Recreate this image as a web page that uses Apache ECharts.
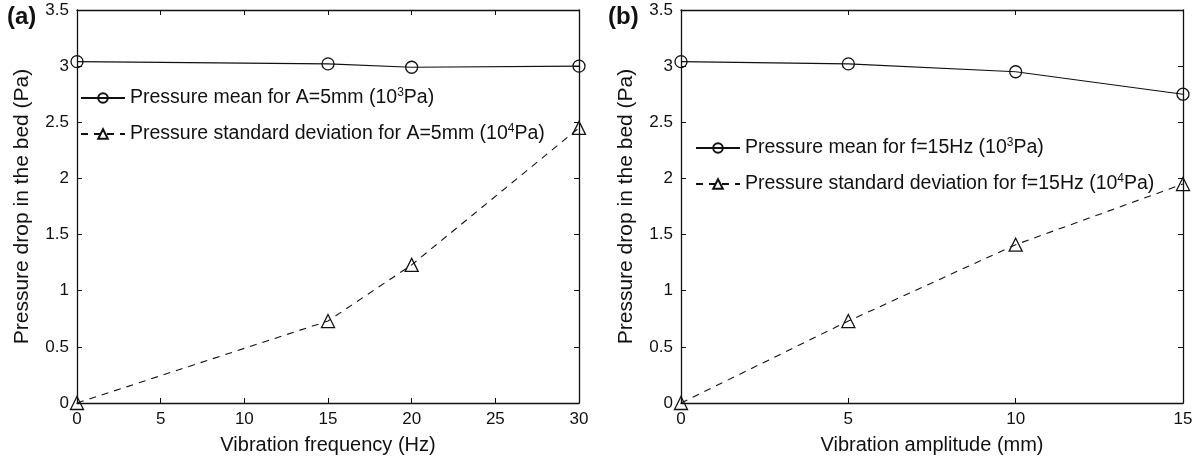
<!DOCTYPE html>
<html>
<head>
<meta charset="utf-8">
<script src="https://cdn.jsdelivr.net/npm/echarts@6/dist/echarts.min.js"></script>
<style>html,body{margin:0;padding:0;background:#fff;}#c{width:1199px;height:460px;}</style>
</head>
<body>
<div id="c"></div>
<script>
// Panel (a): vibration frequency
const freqX = [0, 15, 20, 30];
const meanA = [3.04, 3.02, 2.99, 3.0];
const stdA = [0, 0.73, 1.23, 2.45];
// Panel (b): vibration amplitude
const ampX = [0, 5, 10, 15];
const meanB = [3.04, 3.02, 2.95, 2.75];
const stdB = [0, 0.73, 1.41, 1.95];

const FONT = "'Liberation Sans', Arial, sans-serif";
const chart = echarts.init(document.getElementById('c'), null, {renderer: 'canvas'});

const rich = {
  n: {fontFamily: FONT, fontSize: 19.5, color: '#111'},
  s: {fontFamily: FONT, fontSize: 12, color: '#111', verticalAlign: 'top', padding: [0, 0, 10, 0]}
};
function lbl(pre, exp) { return '{n|' + pre + '(10}{s|' + exp + '}{n|Pa)}'; }

function xAxisMain(gi, max, name) {
  return {
    type: 'value', gridIndex: gi, min: 0, max: max, interval: 5,
    name: name, nameLocation: 'middle', nameGap: 32,
    nameTextStyle: {fontFamily: FONT, fontSize: 20, color: '#111'},
    axisLine: {onZero: false, lineStyle: {color: '#111', width: 1.3}},
    axisTick: {inside: true, length: 5, lineStyle: {color: '#111'}},
    axisLabel: {fontFamily: FONT, fontSize: 17, color: '#111', margin: 8},
    splitLine: {show: false}
  };
}
function xAxisTop(gi, max) {
  return {
    type: 'value', gridIndex: gi, min: 0, max: max, interval: 5, position: 'top',
    axisLine: {onZero: false, lineStyle: {color: '#111', width: 1.3}},
    axisTick: {inside: true, length: 5, lineStyle: {color: '#111'}},
    axisLabel: {show: false}, splitLine: {show: false}
  };
}
function yAxisMain(gi) {
  return {
    type: 'value', gridIndex: gi, min: 0, max: 3.5, interval: 0.5,
    name: 'Pressure drop in the bed (Pa)', nameLocation: 'middle', nameGap: 44,
    nameTextStyle: {fontFamily: FONT, fontSize: 21, color: '#111'},
    axisLine: {show: true, onZero: false, lineStyle: {color: '#111', width: 1.3}},
    axisTick: {show: true, inside: true, length: 5, lineStyle: {color: '#111'}},
    axisLabel: {fontFamily: FONT, fontSize: 17, color: '#111', margin: 8},
    splitLine: {show: false}
  };
}
function yAxisRight(gi) {
  return {
    type: 'value', gridIndex: gi, min: 0, max: 3.5, interval: 0.5, position: 'right',
    axisLine: {show: true, onZero: false, lineStyle: {color: '#111', width: 1.3}},
    axisTick: {show: true, inside: true, length: 5, lineStyle: {color: '#111'}},
    axisLabel: {show: false}, splitLine: {show: false}
  };
}
function pairs(xs, ys) { return xs.map((x, i) => [x, ys[i]]); }

function meanSeries(name, xi, yi, data) {
  return {
    name: name, type: 'line', xAxisIndex: xi, yAxisIndex: yi, data: data,
    symbol: 'circle', symbolSize: 12, showAllSymbol: true,
    lineStyle: {color: '#111', width: 1.1, type: 'solid'},
    itemStyle: {color: 'rgba(255,255,255,0)', borderColor: '#111', borderWidth: 1.3},
    animation: false, z: 3
  };
}
function stdSeries(name, xi, yi, data) {
  return {
    name: name, type: 'line', xAxisIndex: xi, yAxisIndex: yi, data: data,
    symbol: 'triangle', symbolSize: 13, showAllSymbol: true,
    lineStyle: {color: '#111', width: 1.1, type: [7, 6]},
    itemStyle: {color: 'rgba(255,255,255,0)', borderColor: '#111', borderWidth: 1.3},
    animation: false, z: 3
  };
}

const nA1 = 'Pressure mean for A=5mm ';
const nA2 = 'Pressure standard deviation for A=5mm ';
const nB1 = 'Pressure mean for f=15Hz ';
const nB2 = 'Pressure standard deviation for f=15Hz ';
const legendNames = {};
legendNames[nA1] = lbl(nA1, '3');
legendNames[nA2] = lbl(nA2, '4');
legendNames[nB1] = lbl(nB1, '3');
legendNames[nB2] = lbl(nB2, '4');

function legend(names, left, top) {
  return {
    data: names, left: left, top: top, orient: 'vertical', itemGap: 15,
    itemWidth: 44, itemHeight: 12, selectedMode: false,
    formatter: n => legendNames[n],
    textStyle: {rich: rich, fontFamily: FONT, fontSize: 19.5, color: '#111'}
  };
}

chart.setOption({
  animation: false,
  backgroundColor: '#fff',
  grid: [
    {left: 77, top: 10, width: 502, height: 394, containLabel: false},
    {left: 681, top: 10, width: 502, height: 394, containLabel: false}
  ],
  xAxis: [xAxisMain(0, 30, 'Vibration frequency (Hz)'), xAxisMain(1, 15, 'Vibration amplitude (mm)'),
          xAxisTop(0, 30), xAxisTop(1, 15)],
  yAxis: [yAxisMain(0), yAxisMain(1), yAxisRight(0), yAxisRight(1)],
  legend: [legend([nA1, nA2], 75, 82), legend([nB1, nB2], 690, 132)],
  series: [
    meanSeries(nA1, 0, 0, pairs(freqX, meanA)),
    stdSeries(nA2, 0, 0, pairs(freqX, stdA)),
    meanSeries(nB1, 1, 1, pairs(ampX, meanB)),
    stdSeries(nB2, 1, 1, pairs(ampX, stdB))
  ],
  graphic: [
    {type: 'text', left: 7, top: 5, style: {text: '(a)', fontFamily: FONT, fontSize: 24, fontWeight: 'bold', fill: '#111'}},
    {type: 'text', left: 608, top: 5, style: {text: '(b)', fontFamily: FONT, fontSize: 24, fontWeight: 'bold', fill: '#111'}}
  ]
});
</script>
</body>
</html>
